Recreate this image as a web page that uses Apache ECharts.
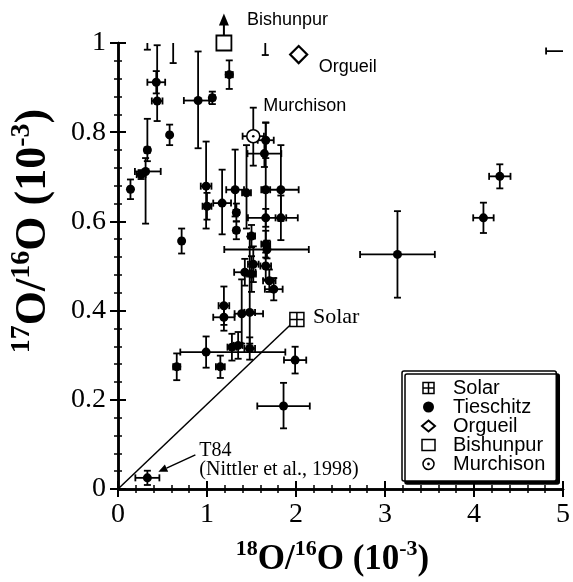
<!DOCTYPE html>
<html lang="en">
<head>
<meta charset="utf-8" />
<script src="https://cdn.jsdelivr.net/npm/echarts@6/dist/echarts.min.js"></script>
</head>
<body style="margin: 0; background: #fff">
<div id="main" style="width: 573px; height: 582px"></div>
<script>
// Tieschitz grains: x = 18O/16O, y = 17O/16O (units 1e-3)
// errors: a number means +/-, a pair means [minus, plus]
var tieX = [0.33, 0.62, 1.655, 5.2, 0.43, 0.44, 0.90, 1.06, 1.25, 0.58, 0.33, 0.31, 0.26, 0.14, 0.715,
  1.66, 1.645, 0.99, 1.0, 1.17, 1.316, 1.444, 1.33, 1.33, 1.5, 1.66, 1.83, 1.66, 1.83, 1.66,
  1.674, 1.52, 1.66, 1.425, 1.50, 1.70, 1.75, 1.19, 1.19, 1.39, 1.48, 0.99, 1.28, 1.35, 1.48,
  0.66, 1.15, 1.99, 1.86, 0.33, 3.14, 4.106, 4.29];
var tieY = [1.05, 1.05, 1.05, 0.982, 0.912, 0.870, 0.871, 0.877, 0.929, 0.794, 0.76, 0.712, 0.705, 0.672, 0.556,
  0.782, 0.752, 0.679, 0.634, 0.641, 0.671, 0.664, 0.62, 0.58, 0.567, 0.671, 0.671, 0.608, 0.608, 0.549,
  0.537, 0.504, 0.50, 0.486, 0.482, 0.467, 0.448, 0.411, 0.385, 0.393, 0.396, 0.307, 0.318, 0.322, 0.315,
  0.274, 0.274, 0.289, 0.186, 0.025, 0.526, 0.608, 0.701];
var tieXErr = [0, 0, 0, [0.39, 0], 0.10, 0.06, [0.16, 0.125], 0.03, 0.04, 0.02, 0.03, [0.12, 0.17], 0.05, 0.02, 0.02,
  0.09, 0.19, 0.06, 0.05, 0.1, 0.1, 0.05, 0.03, 0.03, 0.04, 0.05, 0.2, [0.2, 0.36], 0.06, 0.05,
  [0.48, 0.47], 0.06, 0.06, 0.12, 0.05, 0.07, 0.1, 0.06, 0.12, [0.08, 0.24], 0.06, [0.29, 0.89], 0.05, 0.05, 0.06,
  0.04, 0.05, 0.125, 0.295, 0.135, 0.42, 0.115, 0.12];
var tieYErr = [[0.065, 0], [0.095, 0], [0.077, 0], 0, 0.025, [0.045, 0.125], [0.107, 0.11], 0.014, 0.032, 0.023, [0.025, 0.07], [0.117, 0.03], 0.01, 0.022, 0.028,
  0.04, 0.03, [0.095, 0.1], 0.03, [0.07, 0.075], [0.06, 0.09], [0.08, 0.107], 0.02, 0.02, 0.025, [0.12, 0.15], [0.07, 0.1], 0.02, 0.05, 0.03,
  0.02, 0.04, 0.03, 0.03, 0.04, 0.025, 0.025, 0.043, 0.03, [0.067, 0.077], [0.07, 0.17], 0.035, 0.03, 0.03, 0.025,
  0.03, 0.025, 0.03, [0.05, 0.052], 0.016, 0.097, 0.034, 0.027];

var solarPt = [2.01, 0.38];
var orgueilPt = [2.03, 0.974];
var bishunpurPt = [1.19, 1.0];
var murchisonPt = [1.52, 0.791];
var murchisonXErr = 0.12;
var murchisonYErr = [0.066, 0.064];
// terrestrial fractionation line through the solar composition
var fracLine = [[0, 0], [2.0, 0.38]];
var t84 = [0.33, 0.025];

var serif = 'Liberation Serif';
var sans = 'Liberation Sans';

function lohi(e) {
  return Array.isArray(e) ? e : [e, e];
}
function row(x, y, ex, ey) {
  var a = lohi(ex), b = lohi(ey);
  return [x, y, x - a[0], x + a[1], y - b[0], y + b[1]];
}

var tieData = tieX.map(function (x, i) {
  return row(x, tieY[i], tieXErr[i], tieYErr[i]);
});

function errBars(api) {
  var x = api.value(0), y = api.value(1);
  var c = api.coord([x, y]);
  var xl = api.coord([api.value(2), y])[0];
  var xh = api.coord([api.value(3), y])[0];
  var yl = api.coord([x, api.value(4)])[1];
  var yh = api.coord([x, api.value(5)])[1];
  var ls = { stroke: '#000', lineWidth: 1.8 };
  var cap = 3.5;
  var out = [];
  function ln(x1, y1, x2, y2) {
    out.push({ type: 'line', shape: { x1: x1, y1: y1, x2: x2, y2: y2 }, style: ls });
  }
  if (xh - xl > 1) {
    ln(xl, c[1], xh, c[1]);
    if (c[0] - xl > 1) ln(xl, c[1] - cap, xl, c[1] + cap);
    if (xh - c[0] > 1) ln(xh, c[1] - cap, xh, c[1] + cap);
  }
  if (yl - yh > 1) {
    ln(c[0], yl, c[0], yh);
    if (yl - c[1] > 1) ln(c[0] - cap, yl, c[0] + cap, yl);
    if (c[1] - yh > 1) ln(c[0] - cap, yh, c[0] + cap, yh);
  }
  return { c: c, kids: out };
}

function label(text, x, y, font) {
  return {
    type: 'text',
    style: { text: text, x: x, y: y, font: font, fill: '#000', verticalAlign: 'middle', align: 'left' }
  };
}

var chart = echarts.init(document.getElementById('main'));

var axisLine = { show: true, lineStyle: { color: '#000', width: 2.5 } };
var axisTick = { show: true, inside: true, length: 8, lineStyle: { color: '#000', width: 2 } };
var minorTick = { show: true, splitNumber: 5, length: 4, lineStyle: { color: '#000', width: 1.5 } };
var tickFont = { color: '#000', fontFamily: serif, fontSize: 28, margin: 12 };

var nameRich = function (big, small) {
  return {
    b: { fontFamily: serif, fontWeight: 'bold', fontSize: big, lineHeight: big + 4, verticalAlign: 'bottom', color: '#000' },
    s: { fontFamily: serif, fontWeight: 'bold', fontSize: small, lineHeight: small, verticalAlign: 'top', color: '#000' }
  };
};

var boxed = { color: '#fff', borderColor: '#000', borderWidth: 1.5 };

chart.setOption({
  animation: false,
  backgroundColor: '#fff',
  grid: { left: 113, right: 3, top: 43, bottom: 88 },
  xAxis: [
    {
      type: 'value', min: 0, max: 5, interval: 1, position: 'bottom',
      axisLine: axisLine, axisTick: axisTick, minorTick: minorTick,
      splitLine: { show: false }, axisLabel: tickFont,
      name: '{s|18}{b|O/}{s|16}{b|O (10}{s|-3}{b|)}',
      nameLocation: 'middle', nameGap: 49,
      nameTextStyle: { rich: nameRich(35, 22), padding: [0, 16, 0, 0] }
    },
    {
      type: 'value', min: 0, max: 5, interval: 1, position: 'top',
      axisLine: axisLine, axisTick: axisTick, minorTick: minorTick,
      splitLine: { show: false }, axisLabel: { show: false }
    }
  ],
  yAxis: [
    {
      type: 'value', min: 0, max: 1, interval: 0.2, position: 'left',
      axisLine: axisLine, axisTick: axisTick, minorTick: minorTick,
      splitLine: { show: false }, axisLabel: tickFont,
      name: '{s|17}{b|O/}{s|16}{b|O (10}{s|-3}{b|)}',
      nameLocation: 'middle', nameGap: 62,
      nameTextStyle: { rich: nameRich(44, 28), padding: [0, 0, 0, 70] }
    },
    {
      type: 'value', min: 0, max: 1, interval: 0.2, position: 'right',
      axisLine: axisLine, axisTick: axisTick, minorTick: minorTick,
      splitLine: { show: false }, axisLabel: { show: false }
    }
  ],
  legend: {
    orient: 'vertical', left: 402, top: 371,
    padding: [7, 11, 7, 19],
    itemGap: -1, itemWidth: 13, itemHeight: 11,
    selectedMode: false,
    backgroundColor: '#fff', borderColor: '#000', borderWidth: 1.5, borderRadius: 2,
    shadowColor: '#000', shadowBlur: 0, shadowOffsetX: 3, shadowOffsetY: 3,
    textStyle: { fontFamily: sans, fontSize: 20, color: '#000', padding: [0, 0, 0, 13] },
    data: [
      { name: 'Solar', icon: 'path://M0 0H10V10H0Z M5 0V10 M0 5H10', itemStyle: boxed },
      { name: 'Tieschitz', icon: 'circle', itemStyle: { color: '#000', borderWidth: 0 } },
      { name: 'Orgueil', icon: 'diamond', itemStyle: { color: '#fff', borderColor: '#000', borderWidth: 2 } },
      { name: 'Bishunpur', icon: 'rect', itemStyle: boxed },
      { name: 'Murchison', icon: 'path://M6 0A6 6 0 1 1 5.99 0Z M6 5.3A0.7 0.7 0 1 1 5.99 5.3Z', itemStyle: boxed }
    ]
  },
  series: [
    {
      name: 'fractionation', type: 'line', data: fracLine, showSymbol: false, symbol: 'none',
      lineStyle: { color: '#000', width: 1.5 }, silent: true, z: 1
    },
    {
      name: 'Tieschitz', type: 'custom', data: tieData, clip: true, color: '#000',
      encode: { x: 0, y: 1 },
      renderItem: function (params, api) {
        var e = errBars(api);
        e.kids.push({ type: 'circle', shape: { cx: e.c[0], cy: e.c[1], r: 4.5 }, style: { fill: '#000' } });
        return { type: 'group', children: e.kids };
      }
    },
    {
      name: 'Solar', type: 'custom', data: [row(solarPt[0], solarPt[1], 0, 0)], color: '#000',
      encode: { x: 0, y: 1 }, z: 3,
      renderItem: function (params, api) {
        var c = api.coord([api.value(0), api.value(1)]);
        var h = 7, st = { stroke: '#000', lineWidth: 1.5, fill: '#fff' };
        return {
          type: 'group', children: [
            { type: 'rect', shape: { x: c[0] - h, y: c[1] - h, width: 2 * h, height: 2 * h }, style: st },
            { type: 'line', shape: { x1: c[0], y1: c[1] - h, x2: c[0], y2: c[1] + h }, style: st },
            { type: 'line', shape: { x1: c[0] - h, y1: c[1], x2: c[0] + h, y2: c[1] }, style: st },
            label('Solar', c[0] + 16, c[1] - 2, '22px "' + serif + '"')
          ]
        };
      }
    },
    {
      name: 'Orgueil', type: 'custom', data: [row(orgueilPt[0], orgueilPt[1], 0, 0)], color: '#000',
      encode: { x: 0, y: 1 }, z: 3,
      renderItem: function (params, api) {
        var c = api.coord([api.value(0), api.value(1)]);
        var h = 8.5;
        return {
          type: 'group', children: [
            { type: 'polygon', shape: { points: [[c[0], c[1] - h], [c[0] + h, c[1]], [c[0], c[1] + h], [c[0] - h, c[1]]] },
              style: { stroke: '#000', lineWidth: 2.2, fill: '#fff' } },
            label('Orgueil', c[0] + 20, c[1] + 12, '18px "' + sans + '"')
          ]
        };
      }
    },
    {
      name: 'Bishunpur', type: 'custom', data: [row(bishunpurPt[0], bishunpurPt[1], 0, 0)], color: '#000',
      encode: { x: 0, y: 1 }, z: 3,
      renderItem: function (params, api) {
        var c = api.coord([api.value(0), api.value(1)]);
        var h = 7.5, top = c[1] - h;
        return {
          type: 'group', children: [
            { type: 'rect', shape: { x: c[0] - h, y: top, width: 2 * h, height: 2 * h }, style: { stroke: '#000', lineWidth: 1.8, fill: '#fff' } },
            { type: 'line', shape: { x1: c[0], y1: top, x2: c[0], y2: top - 12 }, style: { stroke: '#000', lineWidth: 2 } },
            { type: 'polygon', shape: { points: [[c[0] - 5, top - 10], [c[0] + 5, top - 10], [c[0], top - 22]] }, style: { fill: '#000' } },
            label('Bishunpur', c[0] + 23, c[1] - 23, '18px "' + sans + '"')
          ]
        };
      }
    },
    {
      name: 'Murchison', type: 'custom', data: [row(murchisonPt[0], murchisonPt[1], murchisonXErr, murchisonYErr)], color: '#000',
      encode: { x: 0, y: 1 }, z: 3,
      renderItem: function (params, api) {
        var e = errBars(api), c = e.c;
        e.kids.push({ type: 'circle', shape: { cx: c[0], cy: c[1], r: 6.5 }, style: { stroke: '#000', lineWidth: 1.6, fill: '#fff' } });
        e.kids.push({ type: 'circle', shape: { cx: c[0], cy: c[1], r: 1.3 }, style: { fill: '#000' } });
        e.kids.push(label('Murchison', c[0] + 10, c[1] - 30, '18px "' + sans + '"'));
        return { type: 'group', children: e.kids };
      }
    },
    {
      name: 'T84 note', type: 'custom', data: [t84], encode: { x: 0, y: 1 }, z: 4, silent: true,
      renderItem: function (params, api) {
        var c = api.coord([api.value(0), api.value(1)]);
        var tx = c[0] + 48, ty = c[1] - 23, hx = c[0] + 11, hy = c[1] - 6;
        var ang = Math.atan2(hy - ty, hx - tx), L = 9, W = 4;
        var bx = hx - L * Math.cos(ang), by = hy - L * Math.sin(ang);
        return {
          type: 'group', children: [
            { type: 'line', shape: { x1: tx, y1: ty, x2: bx, y2: by }, style: { stroke: '#000', lineWidth: 1.5 } },
            { type: 'polygon', shape: { points: [[hx, hy], [bx - W * Math.sin(ang), by + W * Math.cos(ang)], [bx + W * Math.sin(ang), by - W * Math.cos(ang)]] }, style: { fill: '#000' } },
            label('T84', c[0] + 52, c[1] - 27, '20px "' + serif + '"'),
            label('(Nittler et al., 1998)', c[0] + 52, c[1] - 8, '20px "' + serif + '"')
          ]
        };
      }
    }
  ]
});
</script>
</body>
</html>
